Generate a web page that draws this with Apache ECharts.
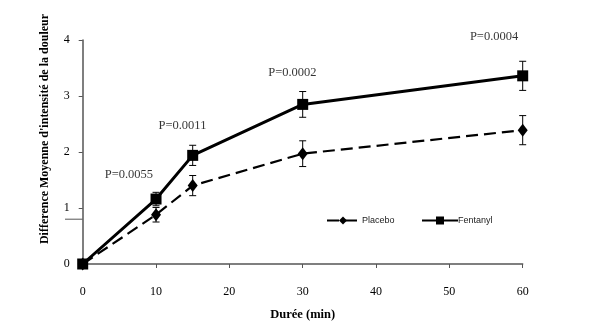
<!DOCTYPE html>
<html><head><meta charset="utf-8">
<script src="https://cdn.jsdelivr.net/npm/echarts@6/dist/echarts.min.js"></script>
<style>html,body{margin:0;padding:0;background:#fff}#c{width:605px;height:326px}</style>
</head><body><div id="c"></div>
<script>
var durations = [0, 10, 15, 30, 60];
var placebo = [0, 0.88, 1.40, 1.97, 2.39];
var placeboErr = [0, 0.13, 0.18, 0.23, 0.26];
var fentanyl = [0, 1.16, 1.94, 2.85, 3.36];
var fentanylErr = [0, 0.12, 0.18, 0.23, 0.26];
var pLabels = ['P=0.0055', 'P=0.0011', 'P=0.0002', 'P=0.0004'];
var pLabelX = [6.3, 13.6, 28.6, 56.1];
var pLabelY = [1.6, 2.47, 3.42, 4.06];
var xTicks = [0, 10, 20, 30, 40, 50, 60];
var yTicks = [0, 1, 2, 3, 4];

function pairs(xs, ys){ return xs.map(function(x,i){return [x, ys[i]];}); }
function errData(xs, ys, es){ return xs.map(function(x,i){return [x, ys[i]-es[i], ys[i]+es[i]];}).filter(function(d){return d[2]>d[1];}); }
function errRender(params, api){
  var x = api.value(0), lo = api.value(1), hi = api.value(2);
  var p1 = api.coord([x, hi]), p2 = api.coord([x, lo]);
  var w = 3.5;
  var st = {stroke:'#000', lineWidth:1};
  return {type:'group', children:[
    {type:'line', shape:{x1:p1[0],y1:p1[1],x2:p2[0],y2:p2[1]}, style:st},
    {type:'line', shape:{x1:p1[0]-w,y1:p1[1],x2:p1[0]+w,y2:p1[1]}, style:st},
    {type:'line', shape:{x1:p2[0]-w,y1:p2[1],x2:p2[0]+w,y2:p2[1]}, style:st}
  ]};
}
var serif = '"Liberation Serif", "DejaVu Serif", serif';
var sans = '"Liberation Sans", Arial, sans-serif';
var chart = echarts.init(document.getElementById('c'), null, {renderer:'canvas'});
chart.setOption({
  animation:false,
  backgroundColor:'#fff',
  grid:{left:82.7, right:82.3, top:40, bottom:59},
  xAxis:{type:'value', min:0, max:60, interval:10,
    name:'Durée (min)', nameLocation:'middle', nameGap:44,
    nameTextStyle:{fontFamily:serif, fontWeight:'bold', fontSize:12.5, color:'#000'},
    axisLine:{lineStyle:{color:'#555', width:1.5}},
    axisTick:{show:true, inside:false, length:4, lineStyle:{color:'#555'}},
    axisLabel:{margin:22, fontFamily:serif, fontSize:12, color:'#000'},
    splitLine:{show:false}},
  yAxis:{type:'value', min:0, max:4, interval:1,
    axisLine:{show:true, lineStyle:{color:'#555', width:1.5}},
    axisTick:{show:true, inside:false, length:4, lineStyle:{color:'#555'}},
    axisLabel:{margin:13, fontFamily:serif, fontSize:12, color:'#000'},
    splitLine:{show:false}},
  legend:[
    {data:['Placebo'], left:321, top:211, itemWidth:32, itemHeight:10,
     textStyle:{fontFamily:sans, fontSize:9, color:'#222', padding:[0,0,0,-2]}},
    {data:['Fentanyl'], left:416, top:211, itemWidth:36, itemHeight:10, itemGap:0,
     textStyle:{fontFamily:sans, fontSize:9, color:'#222', padding:[0,0,0,-5]}}
  ],
  series:[
    {name:'Placebo', type:'line', data:pairs(durations, placebo), symbol:'diamond', symbolSize:[10,13],
     itemStyle:{color:'#000'}, lineStyle:{color:'#000', width:2.2, type:[12,6]}, z:3},
    {name:'Fentanyl', type:'line', data:pairs(durations, fentanyl), symbol:'rect', symbolSize:11,
     itemStyle:{color:'#000'}, lineStyle:{color:'#000', width:3}, z:3},
    {type:'custom', renderItem:errRender, data:errData(durations, placebo, placeboErr), z:2, silent:true},
    {type:'custom', renderItem:errRender, data:errData(durations, fentanyl, fentanylErr), z:2, silent:true},
    {type:'scatter', data:pairs(pLabelX, pLabelY).map(function(d,i){return {value:d, name:pLabels[i]};}),
     symbolSize:0, clip:false, silent:true,
     label:{show:true, position:'inside', formatter:function(p){return p.name;}, fontFamily:serif, fontSize:12.5, color:'#000'}}
  ]
});
var yArt = chart.convertToPixel({gridIndex:0}, [0, 0.8]);
chart.setOption({graphic:[
  {type:'text', x:45, y:129, rotation:Math.PI/2,
     style:{text:"Difference Moyenne d'intensité de la douleur", font:'bold 12px ' + serif, fill:'#000', textAlign:'center', textVerticalAlign:'middle'}},
  {type:'line', shape:{x1:65, y1:yArt[1], x2:yArt[0], y2:yArt[1]}, style:{stroke:'#555', lineWidth:1}}
]});
</script></body></html>
